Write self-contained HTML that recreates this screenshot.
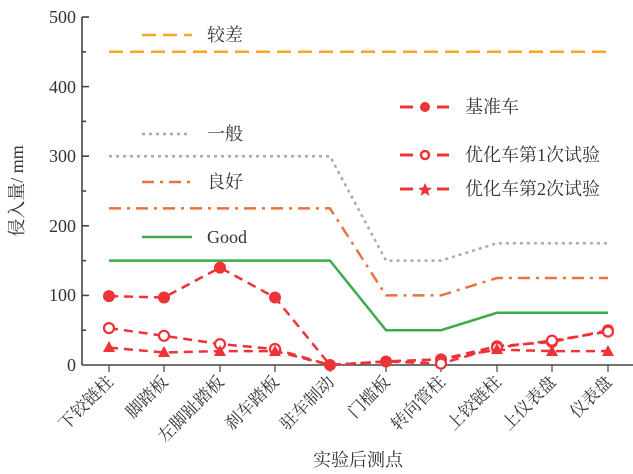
<!DOCTYPE html>
<html><head><meta charset="utf-8"><style>
body{margin:0;background:#fff}
svg{display:block}
text{font-family:"Liberation Serif","Noto Serif CJK SC","Noto Sans CJK SC",serif;fill:#333}
</style></head><body>
<svg width="633" height="474" viewBox="0 0 633 474">
<!-- axes -->
<g stroke="#444" stroke-width="1.6" fill="none">
<line x1="82" y1="17" x2="82" y2="365"/>
<line x1="82" y1="365" x2="633" y2="365"/>
<line x1="82" y1="17" x2="89" y2="17"/>
<line x1="82" y1="86.6" x2="89" y2="86.6"/>
<line x1="82" y1="156.2" x2="89" y2="156.2"/>
<line x1="82" y1="225.8" x2="89" y2="225.8"/>
<line x1="82" y1="295.4" x2="89" y2="295.4"/>
<line x1="82" y1="51.8" x2="86" y2="51.8"/>
<line x1="82" y1="121.4" x2="86" y2="121.4"/>
<line x1="82" y1="191" x2="86" y2="191"/>
<line x1="82" y1="260.6" x2="86" y2="260.6"/>
<line x1="82" y1="330.2" x2="86" y2="330.2"/>
<g stroke-width="1.2">
<line x1="109" y1="365" x2="109" y2="372"/><line x1="164" y1="365" x2="164" y2="372"/><line x1="220" y1="365" x2="220" y2="372"/><line x1="275" y1="365" x2="275" y2="372"/><line x1="330" y1="365" x2="330" y2="372"/><line x1="386" y1="365" x2="386" y2="372"/><line x1="441" y1="365" x2="441" y2="372"/><line x1="497" y1="365" x2="497" y2="372"/><line x1="552" y1="365" x2="552" y2="372"/><line x1="608" y1="365" x2="608" y2="372"/>
</g>
</g>
<g font-size="18" text-anchor="end">
<text x="76" y="23">500</text><text x="76" y="93">400</text><text x="76" y="162">300</text><text x="76" y="232">200</text><text x="76" y="301">100</text><text x="76" y="371">0</text>
</g>
<text transform="translate(23,191) rotate(-90)" font-size="18" text-anchor="middle">侵入量/ mm</text>
<g font-size="17" text-anchor="end">
<text transform="translate(114,383) rotate(-45)">下铰链柱</text>
<text transform="translate(169,383) rotate(-45)">脚踏板</text>
<text transform="translate(225,383) rotate(-45)">左脚趾踏板</text>
<text transform="translate(280,383) rotate(-45)">刹车踏板</text>
<text transform="translate(335,383) rotate(-45)">驻车制动</text>
<text transform="translate(391,383) rotate(-45)">门槛板</text>
<text transform="translate(446,383) rotate(-45)">转向管柱</text>
<text transform="translate(502,383) rotate(-45)">上铰链柱</text>
<text transform="translate(557,383) rotate(-45)">上仪表盘</text>
<text transform="translate(613,383) rotate(-45)">仪表盘</text>
</g>
<text x="358" y="466" font-size="18" text-anchor="middle">实验后测点</text>
<!-- reference lines -->
<g fill="none" stroke-width="2.5">
<line x1="109" y1="51.8" x2="608" y2="51.8" stroke="#f5a623" stroke-dasharray="14,7"/>
<polyline points="109,156.2 330,156.2 386,260.6 441,260.6 497,243.2 608,243.2" stroke="#aaa" stroke-dasharray="3,4"/>
<polyline points="109,208.4 330,208.4 386,295.4 441,295.4 497,278 608,278" stroke="#e8743b" stroke-dasharray="12,6,3,6"/>
<polyline points="109,260.6 330,260.6 386,330.2 441,330.2 497,312.8 608,312.8" stroke="#3aad4a" stroke-width="2.5"/>
</g>
<!-- data -->
<g fill="none" stroke="#ee3338" stroke-width="2.5" stroke-dasharray="9,6">
<polyline points="109,296.1 164,297.5 220,267.6 275,297.5 330,365 386,361.5 441,359.4 497,346.2 552,342 608,330.2"/>
<polyline points="109,328.1 164,335.8 220,344.1 275,349 330,365 386,361.5 441,363.6 497,347.6 552,340.6 608,331.6"/>
<polyline points="109,347.6 164,352.5 220,351.1 275,351.1 330,365 386,361.5 441,359.4 497,349.7 552,351.1 608,351.1"/>
</g>
<g fill="#ee3338">
<circle cx="109" cy="296.1" r="6"/><circle cx="164" cy="297.5" r="6"/><circle cx="220" cy="267.6" r="6"/><circle cx="275" cy="297.5" r="6"/><circle cx="330" cy="365" r="6"/><circle cx="386" cy="361.5" r="6"/><circle cx="441" cy="359.4" r="6"/><circle cx="497" cy="346.2" r="6"/><circle cx="552" cy="342" r="6"/><circle cx="608" cy="330.2" r="6"/>
</g>
<g fill="#fff" stroke="#ee3338" stroke-width="2.2">
<circle cx="109" cy="328.1" r="5"/><circle cx="164" cy="335.8" r="5"/><circle cx="220" cy="344.1" r="5"/><circle cx="275" cy="349" r="5"/><circle cx="441" cy="363.6" r="5"/><circle cx="497" cy="347.6" r="5"/><circle cx="552" cy="340.6" r="5"/><circle cx="608" cy="331.6" r="5"/>
</g>
<g fill="#ee3338">
<path d="M109,341 l6,11 h-12z"/><path d="M164,346 l6,11 h-12z"/><path d="M220,345 l6,11 h-12z"/><path d="M275,345 l6,11 h-12z"/><path d="M497,343 l6,11 h-12z"/><path d="M552,345 l6,11 h-12z"/><path d="M608,345 l6,11 h-12z"/>
</g>
<!-- left legend -->
<g fill="none" stroke-width="2.5">
<line x1="142" y1="35" x2="192" y2="35" stroke="#f5a623" stroke-dasharray="14,7"/>
<line x1="142" y1="134" x2="190" y2="134" stroke="#aaa" stroke-dasharray="3,4"/>
<line x1="142" y1="182" x2="192" y2="182" stroke="#e8743b" stroke-dasharray="12,6,3,6"/>
<line x1="142" y1="237" x2="192" y2="237" stroke="#3aad4a"/>
</g>
<g font-size="18">
<text x="207" y="41">较差</text><text x="207" y="140">一般</text><text x="207" y="188">良好</text><text x="207" y="243">Good</text>
</g>
<!-- right legend -->
<g stroke="#ee3338" stroke-width="3">
<line x1="400" y1="107" x2="413" y2="107"/><line x1="437" y1="107" x2="449" y2="107"/>
<line x1="400" y1="155" x2="413" y2="155"/><line x1="437" y1="155" x2="449" y2="155"/>
<line x1="400" y1="189" x2="413" y2="189"/><line x1="437" y1="189" x2="449" y2="189"/>
</g>
<circle cx="425" cy="107" r="5" fill="#ee3338"/>
<circle cx="425" cy="155" r="4" fill="#fff" stroke="#ee3338" stroke-width="2.5"/>
<path d="M425,183 l2,4.5 5,0.5 -4,3 1.5,5 -4.5,-3 -4.5,3 1.5,-5 -4,-3 5,-0.5z" fill="#ee3338"/>
<g font-size="18">
<text x="465" y="113">基准车</text><text x="465" y="161">优化车第1次试验</text><text x="465" y="195">优化车第2次试验</text>
</g>
</svg>
</body></html>
